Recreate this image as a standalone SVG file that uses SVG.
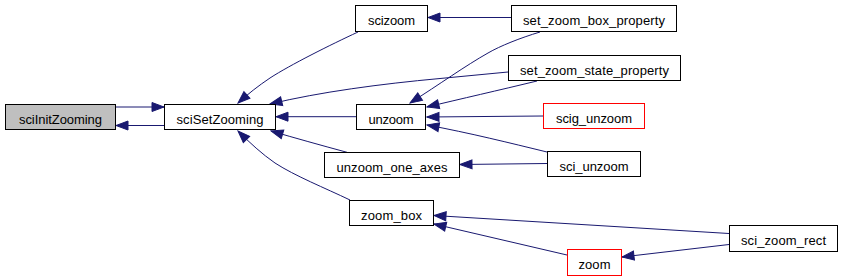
<svg xmlns="http://www.w3.org/2000/svg" width="842" height="278" viewBox="0 0 842 278">
<style>
.n rect{fill:#ffffff;stroke:#000000;stroke-width:1}
.n.g rect{fill:#bfbfbf}
.n.r rect{stroke:#ff0000}
.n text{font-family:"Liberation Sans",Arial,sans-serif;font-size:13px;fill:#000000;text-anchor:middle}
#edges path{fill:none;stroke:#191970;stroke-width:1;marker-end:url(#a)}
</style>
<defs>
<marker id="a" markerUnits="userSpaceOnUse" viewBox="-1 -6 14 12" markerWidth="14" markerHeight="12" refX="12" refY="0" orient="auto">
<path d="M0,-4.5 L12,0 L0,4.5 z" fill="#191970" stroke="#191970" stroke-width="1"/>
</marker>
</defs>
<rect width="842" height="278" fill="#ffffff"/>
<g id="edges">
<path d="M116,107 L164,107"/>
<path d="M164,125.5 L116,125.5"/>
<path d="M358,32 C330,45 290,65 270,78 C258,86 248,94 238,103"/>
<path d="M508,72 L440,78.5 C380,84 320,92 270,104"/>
<path d="M540,32 C520,38 500,46 488,53 C465,66 440,84 410,103"/>
<path d="M537,81 C500,90 460,99 427,107"/>
<path d="M543,116 L427,117"/>
<path d="M547,152 C510,143 470,133 427,125"/>
<path d="M547,163.5 L460,164.5"/>
<path d="M356,116.7 L276,116.7"/>
<path d="M347,152.3 C320,145 295,138 271,131"/>
<path d="M350,200 C325,188 295,176 275,163 C262,154 250,143 238,131"/>
<path d="M729,233.5 L434,215.5"/>
<path d="M567,255 L434,224"/>
<path d="M729,244.5 L622,257"/>
<path d="M511,17.5 L428,17.5"/>
</g>
<g id="sciInitZooming" class="n g"><rect x="5.5" y="104.5" width="110" height="25"/><text x="60.5" y="123.5" textLength="83" lengthAdjust="spacing">sciInitZooming</text></g>
<g id="sciSetZooming" class="n"><rect x="164.5" y="104.5" width="111" height="25"/><text x="220" y="123.5" textLength="87" lengthAdjust="spacing">sciSetZooming</text></g>
<g id="scizoom" class="n"><rect x="355.5" y="5.5" width="72" height="26"/><text x="391.5" y="25" textLength="47" lengthAdjust="spacing">scizoom</text></g>
<g id="unzoom" class="n"><rect x="356.5" y="104.5" width="69" height="25"/><text x="391" y="123.5" textLength="45" lengthAdjust="spacing">unzoom</text></g>
<g id="unzoom_one_axes" class="n"><rect x="324.5" y="152.5" width="135" height="25"/><text x="392" y="171.5" textLength="111" lengthAdjust="spacing">unzoom_one_axes</text></g>
<g id="zoom_box" class="n"><rect x="349.5" y="200.5" width="84" height="25"/><text x="391.5" y="219.5" textLength="61" lengthAdjust="spacing">zoom_box</text></g>
<g id="set_zoom_box_property" class="n"><rect x="511.5" y="5.5" width="165" height="26"/><text x="594" y="25" textLength="142" lengthAdjust="spacing">set_zoom_box_property</text></g>
<g id="set_zoom_state_property" class="n"><rect x="508.5" y="55.5" width="172" height="25"/><text x="594.5" y="74.5" textLength="149" lengthAdjust="spacing">set_zoom_state_property</text></g>
<g id="scig_unzoom" class="n r"><rect x="543.5" y="103.5" width="101" height="25"/><text x="594" y="122.5" textLength="76" lengthAdjust="spacing">scig_unzoom</text></g>
<g id="sci_unzoom" class="n"><rect x="547.5" y="151.5" width="93" height="25"/><text x="594" y="170.5" textLength="69" lengthAdjust="spacing">sci_unzoom</text></g>
<g id="sci_zoom_rect" class="n"><rect x="729.5" y="225.5" width="108" height="26"/><text x="783.5" y="245" textLength="85" lengthAdjust="spacing">sci_zoom_rect</text></g>
<g id="zoom" class="n r"><rect x="567.5" y="249.5" width="54" height="26"/><text x="594.5" y="269" textLength="32" lengthAdjust="spacing">zoom</text></g>
</svg>
